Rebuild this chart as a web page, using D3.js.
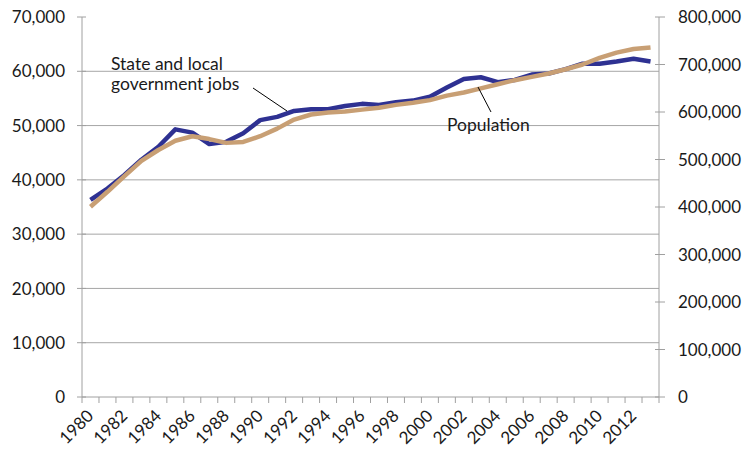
<!DOCTYPE html>
<html>
<head>
<meta charset="utf-8">
<script src="https://cdn.jsdelivr.net/npm/d3@7"></script>
<style>
  body { margin: 0; background: #fff; }
  text { font-family: Lato, 'Open Sans', sans-serif; fill: #1a1a1a; }
</style>
</head>
<body>
<svg id="canvas" width="744" height="450"></svg>
<script>
let years = d3.range(1980, 2014)
let jobs = [36300, 38400, 40900, 43700, 46100, 49300, 48700, 46600, 47000, 48600,
            51000, 51600, 52700, 53000, 53000, 53600, 54000, 53800, 54300, 54600,
            55300, 57000, 58600, 58900, 58000, 58400, 59400, 59600, 60400, 61400,
            61400, 61800, 62300, 61800]
let population = [400600, 432000, 465000, 497000, 520000, 539500, 549000, 543000, 535000, 537000,
                  549000, 565000, 584000, 594700, 599000, 601000, 605000, 609000, 615000, 619500,
                  625000, 634500, 641000, 649800, 658500, 667000, 674000, 681000, 690000, 700000,
                  714000, 725000, 732500, 736000]
let leftTicks = d3.range(0, 70001, 10000)
let rightTicks = d3.range(0, 800001, 100000)
let yearLabels = years.filter((y) => y % 2 === 0 && y < 2013)

let plotLeft = 82, plotRight = 659, plotTop = 17, plotBottom = 397

let canvas = d3.select('#canvas')

let xScale = d3.scaleBand().domain(years).range([plotLeft, plotRight])
let yLeft = d3.scaleLinear().domain([0, 70000]).range([plotBottom, plotTop])
let yRight = d3.scaleLinear().domain([0, 800000]).range([plotBottom, plotTop])
let cx = (d) => xScale(d) + xScale.bandwidth() / 2
let fmt = d3.format(',')

// gridlines (none at the top)
canvas.selectAll('.grid')
      .data(leftTicks.filter((t) => t > 0 && t < 70000))
      .enter()
      .append('line')
      .attr('x1', plotLeft).attr('x2', plotRight)
      .attr('y1', (d) => yLeft(d)).attr('y2', (d) => yLeft(d))
      .attr('stroke', '#a6a6a6')
      .attr('stroke-width', 1)

// left axis
canvas.append('line')
      .attr('x1', plotLeft).attr('x2', plotLeft).attr('y1', plotTop).attr('y2', plotBottom)
      .attr('stroke', '#a0a0a0')
canvas.selectAll('.ltick')
      .data(leftTicks)
      .enter()
      .append('line')
      .attr('x1', plotLeft - 5).attr('x2', plotLeft + 4)
      .attr('y1', (d) => yLeft(d)).attr('y2', (d) => yLeft(d))
      .attr('stroke', '#a0a0a0')
canvas.selectAll('.llabel')
      .data(leftTicks)
      .enter()
      .append('text')
      .attr('x', plotLeft - 17)
      .attr('y', (d) => yLeft(d))
      .attr('dy', '0.36em')
      .attr('text-anchor', 'end')
      .attr('font-size', 17)
      .text((d) => fmt(d))

// right axis
canvas.append('line')
      .attr('x1', plotRight).attr('x2', plotRight).attr('y1', plotTop).attr('y2', plotBottom)
      .attr('stroke', '#a0a0a0')
canvas.selectAll('.rtick')
      .data(rightTicks)
      .enter()
      .append('line')
      .attr('x1', plotRight - 4).attr('x2', plotRight + 6)
      .attr('y1', (d) => yRight(d)).attr('y2', (d) => yRight(d))
      .attr('stroke', '#a0a0a0')
canvas.selectAll('.rlabel')
      .data(rightTicks)
      .enter()
      .append('text')
      .attr('x', plotRight + 19)
      .attr('y', (d) => yRight(d))
      .attr('dy', '0.36em')
      .attr('font-size', 17)
      .text((d) => fmt(d))

// bottom axis, ticks between categories
canvas.append('line')
      .attr('x1', plotLeft).attr('x2', plotRight).attr('y1', plotBottom).attr('y2', plotBottom)
      .attr('stroke', '#a0a0a0')
canvas.selectAll('.xtick')
      .data(d3.range(years.length + 1))
      .enter()
      .append('line')
      .attr('x1', (i) => plotLeft + i * xScale.step())
      .attr('x2', (i) => plotLeft + i * xScale.step())
      .attr('y1', plotBottom).attr('y2', plotBottom + 6)
      .attr('stroke', '#a0a0a0')
canvas.selectAll('.xlabel')
      .data(yearLabels)
      .enter()
      .append('text')
      .attr('transform', (d) => 'translate(' + (cx(d) + 4) + ',417) rotate(-45)')
      .attr('text-anchor', 'end')
      .attr('font-size', 17)
      .text((d) => d)

// lines
let jobsLine = d3.line().x((d, i) => cx(years[i])).y((d) => yLeft(d))
let popLine = d3.line().x((d, i) => cx(years[i])).y((d) => yRight(d))

canvas.append('path')
      .attr('d', jobsLine(jobs))
      .attr('fill', 'none')
      .attr('stroke', '#2e3192')
      .attr('stroke-width', 4.5)
      .attr('stroke-linejoin', 'round')
canvas.append('path')
      .attr('d', popLine(population))
      .attr('fill', 'none')
      .attr('stroke', '#c89f74')
      .attr('stroke-width', 4.5)
      .attr('stroke-linejoin', 'round')

// annotations
canvas.append('text')
      .attr('x', 111).attr('y', 70)
      .attr('font-size', 17.5)
      .text('State and local')
canvas.append('text')
      .attr('x', 111).attr('y', 90)
      .attr('font-size', 17.5)
      .text('government jobs')
canvas.append('line')
      .attr('x1', 253).attr('y1', 88).attr('x2', 287).attr('y2', 111)
      .attr('stroke', '#000').attr('stroke-width', 1)

canvas.append('text')
      .attr('x', 447).attr('y', 131)
      .attr('font-size', 17.5)
      .text('Population')
canvas.append('line')
      .attr('x1', 478).attr('y1', 87).attr('x2', 491).attr('y2', 112)
      .attr('stroke', '#000').attr('stroke-width', 1)
</script>
</body>
</html>
